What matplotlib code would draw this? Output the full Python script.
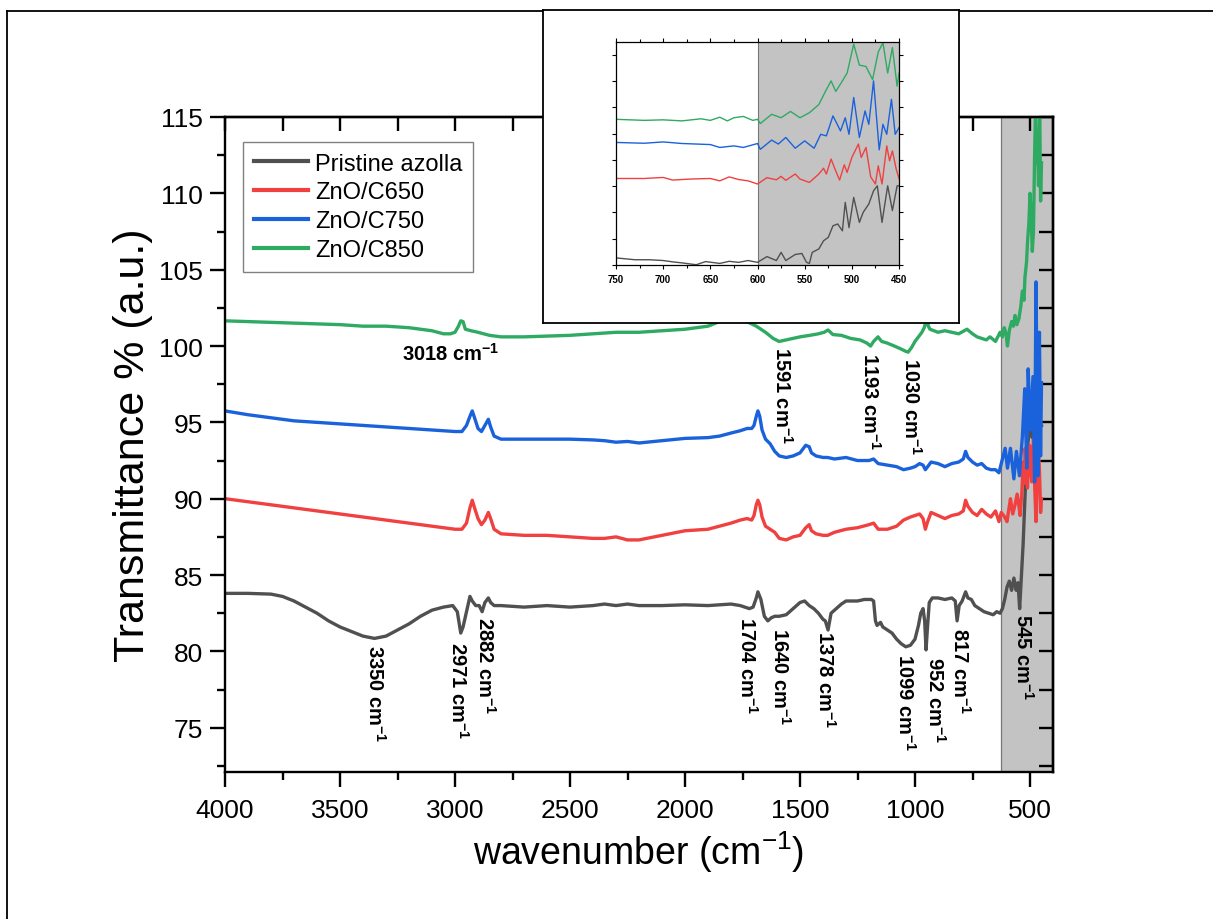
import matplotlib
matplotlib.use("Agg")
import matplotlib.pyplot as plt
from matplotlib.lines import Line2D
from matplotlib.ticker import MultipleLocator

plt.rcParams["font.family"] = ["Liberation Sans", "DejaVu Sans"]
plt.rcParams["mathtext.fontset"] = "custom"
plt.rcParams["mathtext.rm"] = "Liberation Sans"
plt.rcParams["mathtext.it"] = "Liberation Sans:italic"
plt.rcParams["mathtext.bf"] = "Liberation Sans:bold"
plt.rcParams["mathtext.default"] = "regular"

# ---------------- FTIR spectra (wavenumber in cm-1, transmittance %) ----------------
azolla_wn = [4000, 3900, 3800, 3750, 3700, 3650, 3600, 3550, 3500, 3450, 3400, 3350, 3300, 3250,
             3200, 3150, 3100, 3050, 3010, 2990, 2975, 2965, 2950, 2935, 2925, 2910, 2895, 2882,
             2870, 2855, 2845, 2830, 2800, 2700, 2600, 2500, 2400, 2350, 2300, 2250, 2200, 2100,
             2000, 1900, 1800, 1760, 1740, 1720, 1704, 1690, 1683, 1670, 1655, 1640, 1625, 1610,
             1590, 1560, 1530, 1500, 1480, 1460, 1440, 1420, 1400, 1390, 1378, 1365, 1350, 1320,
             1300, 1280, 1250, 1220, 1190, 1180, 1172, 1165, 1150, 1140, 1120, 1100, 1080, 1060,
             1040, 1020, 1000, 985, 975, 965, 958, 952, 946, 938, 925, 900, 870, 840, 825, 817,
             808, 795, 780, 770, 755, 740, 720, 700, 680, 660, 645, 630, 620, 610, 600, 590, 580,
             570, 560, 552, 545, 538, 530, 520, 510, 500, 490, 480, 470, 460, 450]
azolla_t = [83.8, 83.8, 83.75, 83.6, 83.3, 82.9, 82.5, 82.0, 81.6, 81.3, 81.0, 80.85, 81.0, 81.4,
            81.8, 82.3, 82.7, 82.9, 83.0, 82.6, 81.2, 81.6, 82.6, 83.6, 83.3, 83.0, 83.0, 82.6,
            83.2, 83.5, 83.2, 83.0, 83.0, 82.9, 83.0, 82.9, 83.0, 83.1, 83.0, 83.1, 83.0, 83.0,
            83.05, 83.0, 83.1, 83.0, 82.9, 82.8, 82.9, 83.5, 83.9, 83.4, 82.3, 82.0, 82.2, 82.3,
            82.3, 82.4, 82.8, 83.2, 83.3, 83.0, 82.8, 82.5, 82.1, 82.0, 81.4, 82.5, 82.7, 83.1,
            83.3, 83.3, 83.3, 83.4, 83.4, 83.3, 82.0, 81.7, 81.9, 81.6, 81.4, 81.2, 80.8, 80.5,
            80.3, 80.4, 80.8, 81.7, 82.5, 82.8, 82.0, 80.1, 81.5, 83.2, 83.5, 83.5, 83.4, 83.5, 83.3, 82.0,
            83.0, 83.3, 83.9, 83.5, 83.4, 83.0, 82.8, 82.6, 82.5, 82.4, 82.6, 82.5, 82.8, 83.4, 84.2, 84.6, 84.0,
            84.8, 84.0, 84.5, 82.8, 84.8, 87.0, 90.8, 93.5, 94.8, 94.0, 95.0, 93.8, 95.2, 94.8]

c650_wn = [4000, 3900, 3800, 3700, 3600, 3500, 3400, 3300, 3200, 3100, 3050, 3000, 2970, 2950,
           2935, 2925, 2915, 2900, 2885, 2870, 2855, 2845, 2830, 2800, 2700, 2600, 2500, 2400,
           2350, 2300, 2250, 2200, 2100, 2000, 1900, 1850, 1800, 1760, 1730, 1710, 1700, 1690,
           1683, 1675, 1665, 1650, 1630, 1610, 1590, 1560, 1530, 1500, 1475, 1460, 1450, 1430,
           1400, 1380, 1350, 1300, 1250, 1200, 1180, 1160, 1120, 1080, 1050, 1020, 1000, 980,
           965, 955, 945, 930, 900, 870, 840, 810, 790, 780, 770, 750, 730, 710, 690, 670, 650,
           635, 625, 610, 600, 590, 585, 575, 565, 556, 548, 543, 535, 530, 525, 521, 516, 511,
           506, 502, 497, 492, 488, 485, 480, 474, 469, 464, 459, 454, 450]
c650_t = [90.0, 89.8, 89.6, 89.4, 89.2, 89.0, 88.8, 88.6, 88.4, 88.2, 88.1, 88.0, 88.0, 88.4,
          89.4, 89.9, 89.4, 88.7, 88.3, 88.6, 89.1, 88.7, 88.0, 87.7, 87.6, 87.6, 87.5, 87.4,
          87.4, 87.5, 87.3, 87.3, 87.6, 87.9, 88.0, 88.2, 88.4, 88.6, 88.7, 88.6, 88.9, 89.6,
          89.9, 89.6, 88.8, 88.2, 88.0, 87.8, 87.4, 87.3, 87.5, 87.6, 88.1, 88.3, 87.9, 87.7,
          87.6, 87.6, 87.8, 88.0, 88.1, 88.3, 88.4, 88.0, 88.0, 88.2, 88.6, 88.8, 88.9, 89.0,
          88.7, 88.0, 88.5, 89.1, 88.9, 88.7, 88.9, 89.0, 89.2, 89.9, 89.5, 89.1, 88.9, 89.3, 89.0, 88.8, 89.2,
          88.5, 89.1, 88.8, 88.5, 89.5, 90.0, 89.0, 89.6, 90.3, 89.5, 88.9, 90.5, 92.4, 91.0, 93.3, 92.0, 90.7,
          92.5, 93.5, 92.0, 91.1, 92.8, 93.9, 91.0, 88.5, 91.5, 93.3, 92.0, 89.1, 90.0]

c750_wn = [4000, 3900, 3800, 3700, 3600, 3500, 3400, 3300, 3200, 3100, 3050, 3000, 2970, 2950,
           2935, 2925, 2915, 2900, 2885, 2870, 2855, 2845, 2830, 2800, 2700, 2600, 2500, 2400,
           2350, 2300, 2250, 2200, 2100, 2000, 1900, 1850, 1800, 1760, 1730, 1710, 1700, 1690,
           1683, 1675, 1665, 1650, 1630, 1610, 1590, 1560, 1530, 1500, 1475, 1460, 1450, 1430,
           1400, 1380, 1350, 1300, 1250, 1200, 1180, 1160, 1120, 1080, 1050, 1020, 1000, 980,
           965, 955, 945, 930, 900, 870, 840, 810, 790, 780, 770, 750, 730, 710, 690, 670, 650,
           635, 625, 608, 598, 585, 570, 559, 546, 533, 523, 514, 508, 498, 487, 480, 474, 466,
           459, 454, 450]
c750_t = [95.75, 95.5, 95.3, 95.1, 95.0, 94.9, 94.8, 94.7, 94.6, 94.5, 94.45, 94.4, 94.4, 94.8,
          95.4, 95.75, 95.3, 94.6, 94.4, 94.8, 95.2, 94.7, 94.1, 93.9, 93.9, 93.9, 93.9, 93.85,
          93.8, 93.7, 93.75, 93.65, 93.8, 93.95, 94.0, 94.1, 94.3, 94.45, 94.6, 94.6, 94.8, 95.4,
          95.75, 95.4, 94.5, 93.9, 93.6, 93.1, 92.8, 92.7, 92.8, 93.0, 93.5, 93.4, 93.0, 92.8,
          92.7, 92.7, 92.6, 92.7, 92.5, 92.5, 92.6, 92.3, 92.2, 92.1, 91.9, 92.0, 92.1, 92.3,
          92.2, 91.9, 92.1, 92.4, 92.3, 92.1, 92.3, 92.4, 92.6, 93.1, 92.7, 92.4, 92.2, 92.3, 92.0, 91.9, 91.9,
          91.7, 92.3, 93.3, 92.0, 93.3, 91.3, 93.1, 91.5, 94.1, 97.2, 92.0, 98.5, 94.5, 98.0, 91.1, 104.2, 91.5,
          100.9, 92.8, 97.6]

c850_wn = [4000, 3900, 3800, 3700, 3600, 3500, 3400, 3300, 3200, 3100, 3050, 3020, 3000, 2985,
           2975, 2965, 2955, 2930, 2900, 2850, 2800, 2700, 2600, 2500, 2400, 2300, 2200, 2100,
           2000, 1900, 1850, 1800, 1750, 1717, 1690, 1650, 1617, 1591, 1560, 1530, 1500, 1457,
           1420, 1395, 1378, 1357, 1320, 1280, 1239, 1210, 1193, 1180, 1161, 1145, 1122, 1090,
           1060, 1040, 1030, 1015, 1000, 985, 970, 960, 948, 942, 935, 900, 870, 840, 810, 774,
           750, 730, 710, 690, 674, 650, 630, 620, 612, 604, 598, 590, 580, 572, 565, 557, 548,
           540, 533, 526, 522, 515, 510, 505, 500, 495, 490, 485, 480, 476, 472, 468, 463, 458,
           454, 450]
c850_t = [101.65, 101.6, 101.55, 101.5, 101.45, 101.4, 101.3, 101.3, 101.2, 101.0, 100.8, 100.8,
          100.9, 101.3, 101.65, 101.6, 101.1, 101.0, 100.9, 100.7, 100.6, 100.6, 100.65, 100.7,
          100.8, 100.9, 100.9, 101.0, 101.1, 101.3, 101.6, 101.7, 101.7, 101.5, 101.3, 100.9,
          100.5, 100.3, 100.4, 100.5, 100.6, 100.7, 100.8, 100.9, 101.05, 100.75, 100.7, 100.5,
          100.4, 100.2, 100.0, 100.3, 100.6, 100.3, 100.2, 100.0, 99.8, 99.65, 99.6, 99.9, 100.3,
          100.6, 100.9, 101.2, 101.8, 101.3, 101.1, 100.9, 101.0, 100.9, 100.8, 101.1, 100.8,
          100.6, 100.5, 100.4, 100.6, 100.3, 100.9, 100.6, 101.2, 100.8, 100.0, 101.0, 101.6,
          101.3, 102.0, 101.4, 101.8, 102.6, 103.6, 103.0, 104.5, 105.5, 107.0, 108.0, 110.0,
          108.5, 106.2, 107.5, 112.5, 115.5, 112.0, 114.0, 110.5, 116.0, 109.5, 112.0]

series_labels = ["Pristine azolla", "ZnO/C650", "ZnO/C750", "ZnO/C850"]
series_colors = ["#505050", "#f04040", "#1a62dc", "#2eaa62"]

# ---------------- zoomed view of the low-wavenumber window ----------------
zoom_azolla_wn = [750, 730, 715, 700, 690, 680, 665, 655, 640, 630, 620, 610, 600, 590, 580, 575,
                  570, 560, 553, 548, 545, 542, 535, 530, 525, 520, 515, 510, 507, 503, 498, 492,
                  488, 482, 477, 473, 468, 462, 457, 452, 450]
zoom_azolla_t = [0.27, 0.2, 0.2, 0.17, 0.12, 0.08, 0.01, 0.13, 0.06, 0.14, 0.1, 0.17, 0.1, 0.32,
                 0.17, 0.48, 0.17, 0.4, 0.44, 0.1, 0.06, 0.48, 0.61, 0.92, 1.05, 1.49, 1.56, 1.3,
                 2.38, 1.42, 2.57, 1.62, 2.0, 2.32, 2.82, 3.01, 1.62, 3.01, 2.07, 3.01, 3.01]

zoom_c650_wn = [750, 720, 700, 690, 670, 650, 640, 630, 620, 610, 600, 590, 580, 575, 570, 560,
                555, 545, 535, 530, 527, 522, 517, 513, 508, 505, 500, 493, 490, 485, 480, 475,
                472, 468, 463, 460, 457, 453, 450]
zoom_c650_t = [3.29, 3.29, 3.33, 3.23, 3.27, 3.29, 3.2, 3.35, 3.25, 3.2, 3.08, 3.32, 3.24, 3.37,
               3.22, 3.46, 3.27, 3.14, 3.46, 3.68, 3.46, 4.03, 3.57, 3.23, 3.81, 3.52, 4.09, 4.6,
               4.09, 4.47, 3.35, 3.08, 3.77, 3.08, 4.53, 3.96, 4.34, 3.65, 3.29]

zoom_c750_wn = [750, 720, 700, 680, 650, 640, 625, 615, 600, 597, 585, 578, 570, 560, 550, 540,
                533, 527, 520, 512, 507, 503, 498, 492, 486, 482, 477, 471, 467, 463, 458, 454,
                450]
zoom_c750_t = [4.66, 4.63, 4.68, 4.62, 4.58, 4.47, 4.53, 4.47, 4.62, 4.4, 4.75, 4.6, 4.85, 4.44,
               4.72, 4.44, 4.97, 4.91, 5.67, 5.1, 5.6, 4.97, 6.37, 4.85, 5.86, 5.35, 7.0, 4.38,
               5.35, 4.97, 6.3, 4.97, 5.22]

zoom_c850_wn = [750, 720, 700, 680, 660, 650, 640, 632, 625, 615, 605, 600, 597, 585, 575, 565,
                555, 545, 535, 528, 522, 517, 510, 505, 498, 492, 485, 478, 472, 467, 462, 457,
                452, 450]
zoom_c850_t = [5.54, 5.5, 5.52, 5.48, 5.56, 5.5, 5.62, 5.48, 5.6, 5.65, 5.5, 5.54, 5.38, 5.73,
               5.6, 5.84, 5.6, 5.79, 6.1, 6.6, 7.0, 6.6, 7.0, 7.3, 8.4, 7.6, 7.55, 7.05, 8.1, 8.45,
               7.3, 8.27, 6.8, 7.3]

# ---------------- band assignments ----------------
band_labels = ["3350", "2971", "2882", "1704", "1640", "1378", "1099", "952", "817", "545",
               "1591", "1193", "1030"]
band_text_x = [3348, 2987, 2870, 1730, 1587, 1391, 1043, 913, 804, 530, 1579, 1196, 1017]
band_text_y = [80.5, 80.7, 82.3, 82.35, 81.6, 81.4, 79.9, 79.7, 81.6, 82.5, 100.0, 99.6, 99.3]

W, H = 1213, 920
fig = plt.figure(figsize=(W / 100, H / 100), dpi=100)

# page frame (left and top rules)
fig.add_artist(Line2D([7 / W, 7 / W], [0, 1 - 12 / H], transform=fig.transFigure,
                      color="black", lw=1.3))
fig.add_artist(Line2D([7 / W, 1], [1 - 12 / H, 1 - 12 / H], transform=fig.transFigure,
                      color="black", lw=1.3))

ax = fig.add_axes([225 / W, 1 - 773 / H, 828 / W, 655 / H])
ax.axvspan(627, 400, facecolor="#c3c3c3", edgecolor="none", zorder=0)
ax.axvline(627, color="#777777", lw=0.9, zorder=0.5)

spectra = [(azolla_wn, azolla_t), (c650_wn, c650_t), (c750_wn, c750_t), (c850_wn, c850_t)]
for (wn, t), lab, col in zip(spectra, series_labels, series_colors):
    ax.plot(wn, t, color=col, lw=2.4, label=lab, zorder=2)

ax.set_xlim(4000, 400)
ax.set_ylim(72.1, 115)
ax.xaxis.set_major_locator(MultipleLocator(500))
ax.xaxis.set_minor_locator(MultipleLocator(250))
ax.yaxis.set_major_locator(MultipleLocator(5))
ax.yaxis.set_minor_locator(MultipleLocator(2.5))
ax.set_xticks([4000, 3500, 3000, 2500, 2000, 1500, 1000, 500])
ax.tick_params(which="major", direction="out", length=11, width=1.7, labelsize=19)
ax.tick_params(which="minor", direction="out", length=6, width=1.7)
ax.tick_params(axis="x", which="major", pad=8)
ax.tick_params(axis="y", which="major", pad=5)
for sp in ax.spines.values():
    sp.set_linewidth(1.7)

top = ax.secondary_xaxis("top")
top.xaxis.set_major_locator(MultipleLocator(500))
top.xaxis.set_minor_locator(MultipleLocator(250))
top.tick_params(which="both", direction="in", length=10, width=1.7, labeltop=False)
top.spines["top"].set_linewidth(1.7)
right = ax.secondary_yaxis("right")
right.yaxis.set_major_locator(MultipleLocator(5))
right.yaxis.set_minor_locator(MultipleLocator(2.5))
right.tick_params(which="both", direction="in", length=10, width=1.7, labelright=False)
right.spines["right"].set_linewidth(1.7)

ax.set_xlabel("wavenumber (cm$^{-1}$)", fontsize=27, va="center")
ax.xaxis.set_label_coords(0.5, (773 - 852) / 655)
ax.set_ylabel("Transmittance % (a.u.)", fontsize=31, va="center")
ax.yaxis.set_label_coords((133 - 225) / 828, 0.5)

for lab, x, y in zip(band_labels, band_text_x, band_text_y):
    ax.text(x, y, lab + r" cm$^{\mathbf{-1}}$", rotation=-90, ha="center", va="top",
            fontsize=14.5, fontweight="bold", zorder=3)
ax.text(3017, 99.55, r"3018 cm$^{\mathbf{-1}}$", ha="center", va="center",
        fontsize=14.5, fontweight="bold", zorder=3)

leg = ax.legend(loc="upper left", bbox_to_anchor=(243 / W, 1 - 143 / H),
                bbox_transform=fig.transFigure, borderaxespad=0, fontsize=17,
                frameon=True, fancybox=False, edgecolor="#808080", framealpha=1,
                handlelength=2.3, handletextpad=0.3, labelspacing=0.29, borderpad=0.45)
leg.get_frame().set_linewidth(1.0)
for h in leg.get_lines():
    h.set_linewidth(3)

# inset panel
box = fig.add_axes([543 / W, 1 - 324 / H, 416 / W, 313 / H], zorder=5)
box.set_xticks([])
box.set_yticks([])
box.set_facecolor("white")
for sp in box.spines.values():
    sp.set_linewidth(1.3)

ins = fig.add_axes([616 / W, 1 - 266 / H, 283 / W, 223 / H], zorder=6)
ins.axvspan(600, 450, facecolor="#c3c3c3", edgecolor="none", zorder=0)
ins.axvline(600, color="#777777", lw=0.8, zorder=0.5)
zoom_spectra = [(zoom_azolla_wn, zoom_azolla_t), (zoom_c650_wn, zoom_c650_t),
                (zoom_c750_wn, zoom_c750_t), (zoom_c850_wn, zoom_c850_t)]
for (wn, t), col in zip(zoom_spectra, series_colors):
    ins.plot(wn, t, color=col, lw=1.0, zorder=2)
ins.set_xlim(750, 450)
ins.set_ylim(0, 8.48)
ins.xaxis.set_major_locator(MultipleLocator(50))
ins.xaxis.set_minor_locator(MultipleLocator(25))
ins.yaxis.set_major_locator(MultipleLocator(1))
ins.tick_params(which="both", direction="out", length=3, width=0.8, labelsize=7,
                top=True, right=True)
ins.tick_params(which="minor", length=2)
ins.set_yticklabels([])
for lbl in ins.get_xticklabels():
    lbl.set_fontweight("bold")
for sp in ins.spines.values():
    sp.set_linewidth(0.9)

fig.savefig("out.png", dpi=100)
